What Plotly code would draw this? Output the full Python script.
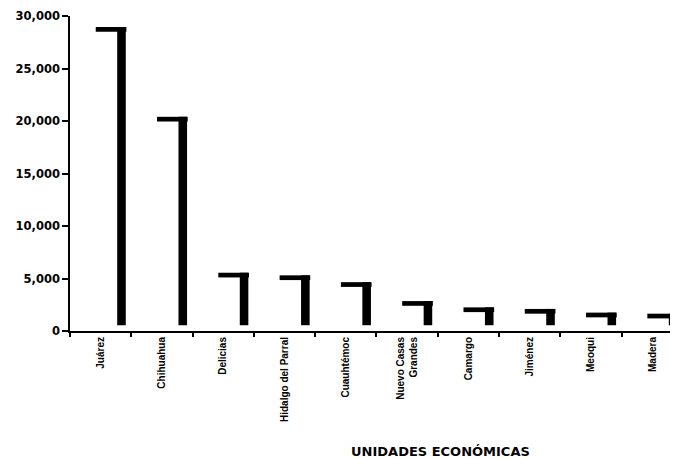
import plotly.graph_objects as go

categories = ["Juárez", "Chihuahua", "Delicias", "Hidalgo del Parral", "Cuauhtémoc",
              "Nuevo Casas<br>Grandes", "Camargo", "Jiménez", "Meoqui", "Madera"]
values = [28400, 19850, 5000, 4750, 4100, 2300, 1700, 1550, 1200, 1100]
y_ticks = [0, 5000, 10000, 15000, 20000, 25000, 30000]
x_title = "UNIDADES ECONÓMICAS"

DEPTH = 550   # 3-D depth of the bars, in axis units
THICK = 450   # visible thickness of the top face

side_base = [DEPTH] * len(values)
top_base = [v + DEPTH - THICK for v in values]
top_height = [THICK] * len(values)

fig = go.Figure()
# right side face of each 3-D bar
fig.add_trace(go.Bar(x=categories, y=values, base=side_base, offset=0.27, width=0.14,
                     marker=dict(color="black", line=dict(width=0)), hoverinfo="skip"))
# top face of each 3-D bar
fig.add_trace(go.Bar(x=categories, y=top_height, base=top_base, offset=-0.08, width=0.50,
                     marker=dict(color="black", line=dict(width=0)), hoverinfo="skip"))

fig.update_layout(
    width=670, height=450,
    margin=dict(l=62, r=0, t=8, b=127),
    paper_bgcolor="white", plot_bgcolor="white",
    barmode="overlay", showlegend=False,
    xaxis=dict(
        type="category", range=[-0.5, 9.42],
        showline=True, linecolor="black", linewidth=2,
        ticks="outside", tickson="boundaries", ticklen=4, tickwidth=1.5, tickcolor="black",
        tickangle=-90, showgrid=False, zeroline=False,
        tickfont=dict(family="Liberation Sans, Arial, sans-serif", size=10, color="black", weight="bold"),
    ),
    yaxis=dict(
        range=[0, 30000], tickvals=y_ticks, tickformat=",d",
        showline=True, linecolor="black", linewidth=1.5,
        ticks="outside", ticklen=6, tickwidth=1.5, tickcolor="black",
        showgrid=False, zeroline=False,
        tickfont=dict(family="DejaVu Sans, sans-serif", size=11.5, color="black", weight="bold"),
    ),
    annotations=[dict(
        text=x_title, xref="paper", yref="paper", x=0.61, y=-0.381,
        xanchor="center", yanchor="middle", showarrow=False,
        font=dict(family="DejaVu Sans, sans-serif", size=13, color="black", weight="bold"),
    )],
)

fig.write_html("out.html")
